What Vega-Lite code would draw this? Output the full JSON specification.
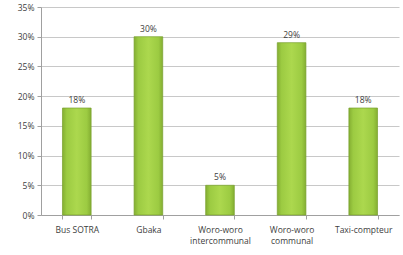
{
  "$schema": "https://vega.github.io/schema/vega-lite/v6.json",
  "width": 358,
  "height": 208,
  "autosize": {"type": "none"},
  "padding": {"left": 41, "top": 7, "right": 4, "bottom": 40},
  "background": "white",
  "config": {
    "view": {"stroke": null},
    "font": "Open Sans"
  },
  "data": {
    "values": [
      {"mode": "Bus SOTRA", "share": 0.18},
      {"mode": "Gbaka", "share": 0.30},
      {"mode": "Woro-woro|intercommunal", "share": 0.05},
      {"mode": "Woro-woro|communal", "share": 0.29},
      {"mode": "Taxi-compteur", "share": 0.18}
    ]
  },
  "encoding": {
    "x": {
      "field": "mode",
      "type": "nominal",
      "sort": null,
      "scale": {"paddingInner": 0.6, "paddingOuter": 0.3},
      "axis": {
        "title": null,
        "labelAngle": 0,
        "labelExpr": "split(datum.label, '|')",
        "labelFontSize": 8.5,
        "labelColor": "#404040",
        "labelPadding": 6,
        "labelLineHeight": 11,
        "domainColor": "#a0a0a0",
        "tickColor": "#a0a0a0",
        "tickBand": "extent",
        "tickSize": 4,
        "grid": false
      }
    },
    "y": {
      "field": "share",
      "type": "quantitative",
      "scale": {"domain": [0, 0.35]},
      "axis": {
        "title": null,
        "values": [0, 0.05, 0.1, 0.15, 0.2, 0.25, 0.3, 0.35],
        "format": ".0%",
        "labelFontSize": 8.5,
        "labelColor": "#404040",
        "labelPadding": 3,
        "domainColor": "#a0a0a0",
        "tickColor": "#a0a0a0",
        "tickSize": 4,
        "gridColor": "#c8c8c8",
        "gridWidth": 1
      }
    }
  },
  "layer": [
    {
      "mark": {
        "type": "bar",
        "stroke": "#78a02c",
        "strokeWidth": 0.7,
        "color": {
          "gradient": "linear",
          "x1": 0, "y1": 0, "x2": 1, "y2": 0,
          "stops": [
            {"offset": 0, "color": "#84ae32"},
            {"offset": 0.15, "color": "#9ccb42"},
            {"offset": 0.5, "color": "#acd84e"},
            {"offset": 0.85, "color": "#9ccb42"},
            {"offset": 1, "color": "#84ae32"}
          ]
        }
      }
    },
    {
      "mark": {"type": "text", "dy": -8, "fontSize": 8.5, "color": "#404040"},
      "encoding": {
        "text": {"field": "share", "type": "quantitative", "format": ".0%"}
      }
    }
  ]
}
